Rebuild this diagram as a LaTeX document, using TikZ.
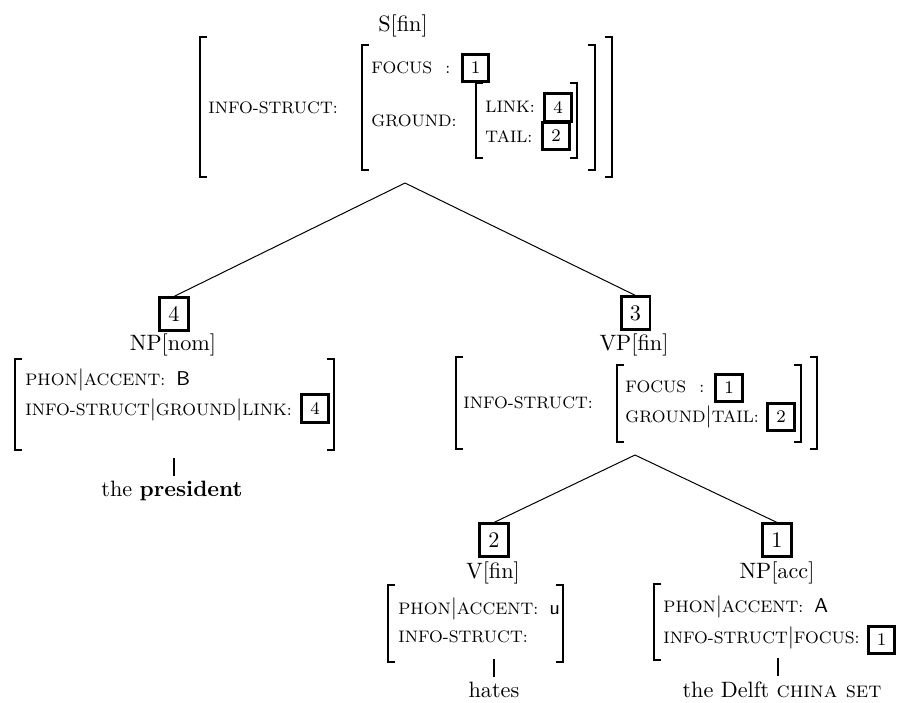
\documentclass[tikz,border=0pt]{standalone}
\usepackage{tikz}
\tikzset{
	brk/.style={line width=0.9pt},
	branch/.style={line width=0.45pt},
	stem/.style={line width=0.9pt},
	tag/.style={draw, line width=1.3pt, inner sep=0pt, minimum width=13pt, minimum height=14.5pt},
	stag/.style={tag, font=\footnotesize, minimum width=12pt, minimum height=12.5pt},
	cat/.style={anchor=base, inner sep=0pt},
	feat/.style={anchor=base west, inner sep=0pt, font=\fontsize{7.5}{9}\selectfont}
}
\newcommand{\pbar}{{\normalsize$|$}}
\newcommand{\acc}[1]{\hspace{5pt}{\small\sffamily #1}}

\begin{document}
\begin{tikzpicture}[x=0.45pt, y=-0.45pt]
		\useasboundingbox (0, 0) rectangle (897, 702);

		% S[fin]
		\node[cat] (s) at (403, 31) {S[fin]};
		\draw[brk]	(207, 37) -- (200, 37) -- (200, 177) -- (207, 177);
		\draw[brk]	(605, 37) -- (612, 37) -- (612, 177) -- (605, 177);
		\node[feat] (s-is) at (208, 113) {INFO-STRUCT:};
		\draw[brk]	(369, 45) -- (362, 45) -- (362, 170) -- (369, 170);
		\draw[brk]	(588, 45) -- (595, 45) -- (595, 170) -- (588, 170);
		\node[feat] (s-foc) at (371, 73) {FOCUS\hspace{6pt}:};
		\node[stag] (s-t1) at (475.5, 68) {1};
		\node[feat] (s-gr) at (371, 126) {GROUND:};
		\draw[brk]	(483, 83) -- (476, 83) -- (476, 158) -- (483, 158);
		\draw[brk]	(570, 83) -- (577, 83) -- (577, 158) -- (570, 158);
		\node[feat] (s-link) at (485, 112) {LINK:};
		\node[stag] (s-t4) at (558, 107.5) {4};
		\node[feat] (s-tail) at (485, 142) {TAIL:};
		\node[stag] (s-t2) at (556, 136) {2};
		\coordinate (s-top) at (405, 183);

		% NP[nom]
		\node[tag] (np-t) at (174, 314) {4};
		\node[cat] (np) at (173, 350) {NP[nom]};
		\draw[brk]	(22, 359) -- (15, 359) -- (15, 450) -- (22, 450);
		\draw[brk]	(327, 359) -- (334, 359) -- (334, 450) -- (327, 450);
		\node[feat] (np-ph) at (25, 385) {PHON\pbar ACCENT:\acc{B}};
		\node[feat] (np-is) at (25, 415) {INFO-STRUCT\pbar GROUND\pbar LINK:};
		\node[stag] (np-t4) at (315, 408.5) {4};
		\node[cat] (np-w) at (172, 496) {the \textbf{president}};

		% VP[fin]
		\node[tag] (vp-t) at (635.5, 313) {3};
		\node[cat] (vp) at (634, 350) {VP[fin]};
		\draw[brk]	(463, 357) -- (456, 357) -- (456, 449) -- (463, 449);
		\draw[brk]	(810, 357) -- (817, 357) -- (817, 449) -- (810, 449);
		\node[feat] (vp-is) at (463, 408) {INFO-STRUCT:};
		\draw[brk]	(624, 365) -- (617, 365) -- (617, 442) -- (624, 442);
		\draw[brk]	(794, 365) -- (801, 365) -- (801, 442) -- (794, 442);
		\node[feat] (vp-foc) at (625, 392) {FOCUS\hspace{6pt}:};
		\node[stag] (vp-t1) at (729, 388) {1};
		\node[feat] (vp-gr) at (625, 422) {GROUND\pbar TAIL:};
		\node[stag] (vp-t2) at (781, 417) {2};
		\coordinate (vp-top) at (635, 455);

		% V[fin]
		\node[tag] (v-t) at (494, 540) {2};
		\node[cat] (v) at (493, 578) {V[fin]};
		\draw[brk]	(395, 585) -- (388, 585) -- (388, 662) -- (395, 662);
		\draw[brk]	(556, 585) -- (563, 585) -- (563, 662) -- (556, 662);
		\node[feat] (v-ph) at (398, 614) {PHON\pbar ACCENT:\acc{u}};
		\node[feat] (v-is) at (398, 642) {INFO-STRUCT:};
		\node[cat] (v-w) at (494, 697) {hates};

		% NP[acc]
		\node[tag] (obj-t) at (777, 540) {1};
		\node[cat] (obj) at (777, 578) {NP[acc]};
		\draw[brk]	(661, 584) -- (654, 584) -- (654, 660) -- (661, 660);
		\node[feat] (obj-ph) at (663, 612) {PHON\pbar ACCENT:\acc{A}};
		\node[feat] (obj-is) at (663, 643) {INFO-STRUCT\pbar FOCUS:};
		\node[stag] (obj-t1) at (881.5, 640) {1};
		\node[cat] (obj-w) at (782, 697) {the Delft \textsc{china set}};

		% branches
		\draw[branch] (s-top) -- (np-t.north);
		\draw[branch] (s-top) -- (vp-t.north);
		\draw[branch] (vp-top) -- (v-t.north);
		\draw[branch] (vp-top) -- (obj-t.north);

		\draw[stem] ([yshift=2pt, xshift=1pt]np-w.north) -- ++(0, -18);
		\draw[stem] ([yshift=2pt]v-w.north) -- ++(0, -18);
		\draw[stem] ([yshift=2pt, xshift=-2pt]obj-w.north) -- ++(0, -18);
	\end{tikzpicture}
\end{document}
